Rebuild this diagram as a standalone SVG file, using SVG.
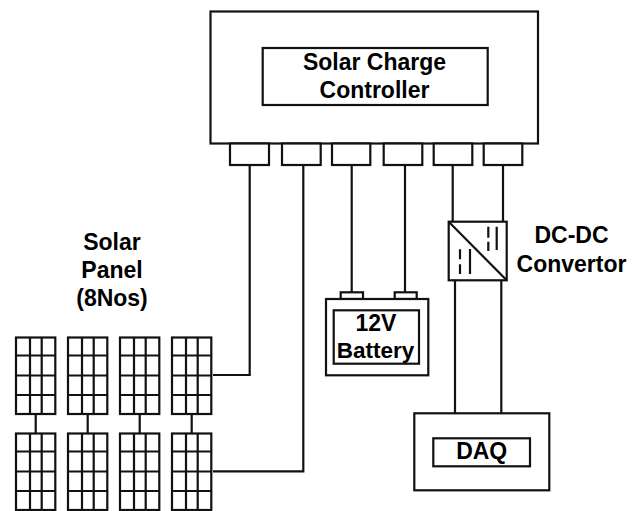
<svg xmlns="http://www.w3.org/2000/svg" xmlns:xlink="http://www.w3.org/1999/xlink" width="640" height="511" viewBox="0 0 640 511">
<style>
.b{fill:#fff;stroke:#111;stroke-width:2.2}
.l{fill:none;stroke:#111;stroke-width:2.2}
.t{font-family:"Liberation Sans",Arial,sans-serif;font-weight:700;font-size:23px;fill:#000;text-anchor:middle}
</style>
<defs>
<g id="panel">
<rect class="b" x="0" y="0" width="39.3" height="76.5"/>
<path class="l" d="M14 0V76.5M25.7 0V76.5M0 18H39.3M0 38H39.3M0 57.5H39.3"/>
</g>
</defs>
<rect width="640" height="511" fill="#fff"/>
<g id="connectors">
<path class="l" d="M249.7 165V375H213"/>
<path class="l" d="M303.3 165V471.3H213"/>
<path class="l" d="M351.7 165V292.3"/>
<path class="l" d="M405 165V292.3"/>
<path class="l" d="M452.7 165V221.7"/>
<path class="l" d="M503 165V221.7"/>
<path class="l" d="M455 280.3V413"/>
<path class="l" d="M501.3 280.3V413"/>
<path class="l" d="M35.7 414V433M87.7 414V433M139.7 414V433M191.7 414V433"/>
</g>
<g id="controller">
<rect class="b" x="210.5" y="11.5" width="327.5" height="132"/>
<rect class="b" x="262.7" y="48" width="225" height="57"/>
<text class="t" x="374.5" y="69.5">Solar Charge</text>
<text class="t" x="374.5" y="98">Controller</text>
</g>
<g id="ports">
<rect class="b" x="230" y="143.5" width="39" height="21.5"/>
<rect class="b" x="282" y="143.5" width="38.7" height="21.5"/>
<rect class="b" x="332" y="143.5" width="38.3" height="21.5"/>
<rect class="b" x="383.7" y="143.5" width="38.6" height="21.5"/>
<rect class="b" x="433.7" y="143.5" width="38.6" height="21.5"/>
<rect class="b" x="483.7" y="143.5" width="38.6" height="21.5"/>
</g>
<g id="battery">
<rect class="b" x="340.7" y="292.3" width="22.3" height="6.7"/>
<rect class="b" x="394.7" y="292.3" width="22" height="6.7"/>
<rect class="b" x="326" y="299" width="102.3" height="76.3"/>
<rect class="b" x="333.7" y="310.3" width="85.3" height="53.4"/>
<text class="t" x="376" y="330.7">12V</text>
<text class="t" x="375.5" y="358.3" style="font-size:22.5px">Battery</text>
</g>
<g id="converter">
<rect class="b" x="448.7" y="221.7" width="58" height="58.6"/>
<path class="l" d="M448.7 221.7L506.7 280.3"/>
<path class="l" d="M496.7 226.7V250M470 249V274"/>
<path class="l" d="M488.3 226.7V237.7M488.3 241.7V251M460 249.3V259.3M460 264.3V274"/>
</g>
<g id="daq">
<rect class="b" x="414.3" y="413.3" width="135" height="77"/>
<rect class="b" x="433.3" y="438.3" width="96.7" height="28"/>
<text class="t" x="481.7" y="459">DAQ</text>
</g>
<g id="panels">
<use xlink:href="#panel" x="16" y="337.5"/>
<use xlink:href="#panel" x="68" y="337.5"/>
<use xlink:href="#panel" x="120" y="337.5"/>
<use xlink:href="#panel" x="172" y="337.5"/>
<use xlink:href="#panel" x="16" y="433.5"/>
<use xlink:href="#panel" x="68" y="433.5"/>
<use xlink:href="#panel" x="120" y="433.5"/>
<use xlink:href="#panel" x="172" y="433.5"/>
</g>
<g id="labels">
<text class="t" x="112" y="250">Solar</text>
<text class="t" x="112" y="277.5">Panel</text>
<text class="t" x="112" y="305.5">(8Nos)</text>
<text class="t" x="571.5" y="243.3">DC-DC</text>
<text class="t" x="571.5" y="272">Convertor</text>
</g>
</svg>
